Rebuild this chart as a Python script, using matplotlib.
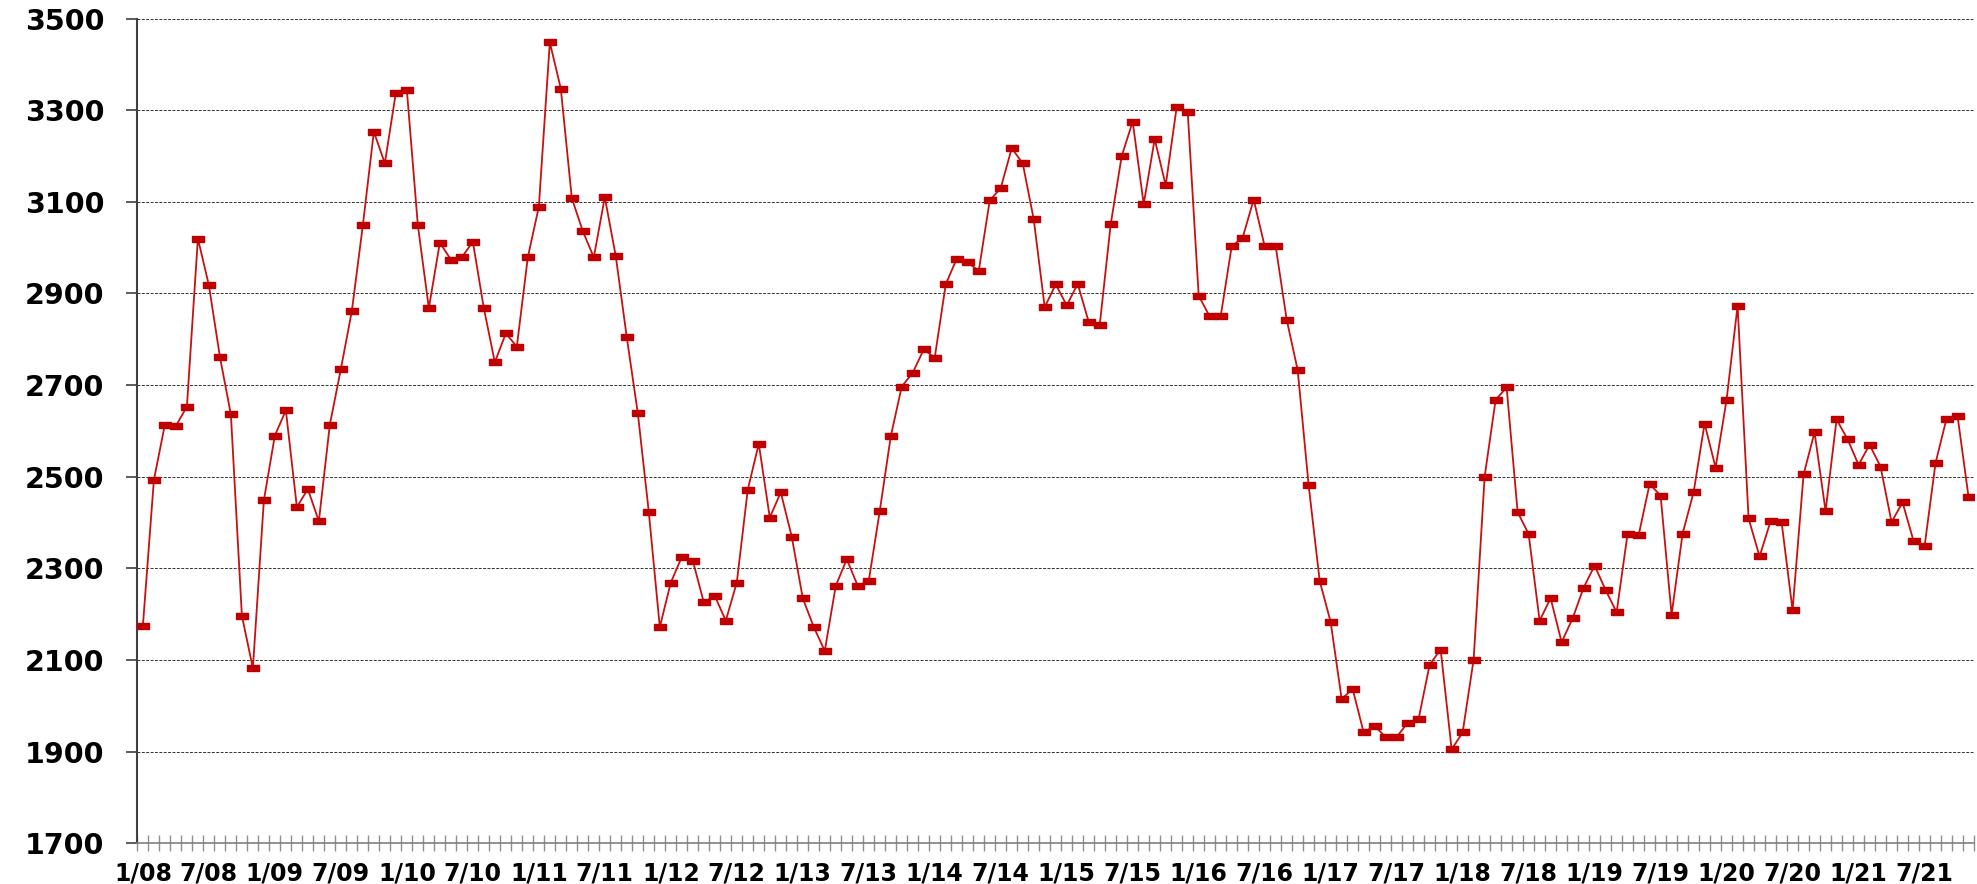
import matplotlib.pyplot as plt
from matplotlib.ticker import FixedLocator, MultipleLocator

# monthly values, 1/08 .. 11/21
values = [
    2175, 2493, 2614, 2611, 2653, 3020, 2918, 2762, 2636, 2197, 2082, 2449,
    2590, 2645, 2434, 2473, 2403, 2614, 2735, 2862, 3049, 3253, 3184, 3338,
    3344, 3049, 2868, 3011, 2974, 2979, 3013, 2868, 2750, 2813, 2784, 2979,
    3089, 3448, 3347, 3108, 3036, 2979, 3110, 2981, 2804, 2639, 2423, 2172,
    2269, 2325, 2317, 2226, 2240, 2186, 2269, 2472, 2572, 2411, 2466, 2369,
    2235, 2172, 2120, 2262, 2320, 2262, 2273, 2425, 2588, 2697, 2727, 2778,
    2760, 2920, 2976, 2968, 2949, 3103, 3130, 3217, 3184, 3062, 2870, 2920,
    2874, 2921, 2838, 2831, 3051, 3200, 3275, 3095, 3237, 3136, 3307, 3297,
    2895, 2850, 2850, 3003, 3022, 3105, 3003, 3003, 2843, 2733, 2481, 2273,
    2183, 2015, 2037, 1942, 1956, 1932, 1932, 1963, 1972, 2090, 2123, 1905,
    1942, 2101, 2500, 2668, 2695, 2423, 2375, 2186, 2235, 2139, 2191, 2258,
    2306, 2253, 2204, 2376, 2372, 2484, 2459, 2199, 2376, 2466, 2616, 2520,
    2668, 2873, 2409, 2326, 2403, 2401, 2209, 2505, 2597, 2425, 2625, 2582,
    2526, 2570, 2522, 2401, 2444, 2360, 2348, 2530, 2627, 2633, 2456,
]

tick_labels = [f"{m}/{y:02d}" for y in range(8, 22) for m in (1, 7)]
y_ticks = list(range(1700, 3501, 200))

RED = "#c00000"
RECT = [(-1.0, -0.55), (1.0, -0.55), (1.0, 0.55), (-1.0, 0.55), (-1.0, -0.55)]


def build_chart(output_path="out.png"):
    fig = plt.figure(figsize=(19.77, 8.84), dpi=100)
    ax = fig.add_axes([0.0695, 0.046, 0.9290, 0.933])

    x = list(range(len(values)))
    ax.plot(x, values, color="#c81010", lw=1.3, marker=RECT, ms=9,
            mfc=RED, mec=RED, zorder=3)

    ax.set_xlim(-0.5, len(values) - 0.5)
    ax.set_ylim(1700, 3500)

    ax.set_yticks(y_ticks)
    ax.set_yticklabels([str(v) for v in y_ticks], fontsize=20.5, fontweight="bold")
    ax.tick_params(axis="y", direction="out", length=8, width=1.2,
                   color="#404040", pad=16)

    ax.xaxis.set_major_locator(FixedLocator(range(0, 6 * len(tick_labels), 6)))
    ax.set_xticklabels(tick_labels, fontsize=17, fontweight="bold")
    ax.tick_params(axis="x", which="major", length=0, pad=13)
    ax.xaxis.set_minor_locator(MultipleLocator(1, offset=0.5))
    ax.tick_params(axis="x", which="minor", direction="inout", length=11,
                   width=1.0, color="#909090")

    for y in y_ticks[1:]:
        ax.axhline(y, color="#333333", lw=0.7, ls=(0, (3, 1.5)), zorder=1)

    for side in ("top", "right"):
        ax.spines[side].set_visible(False)
    ax.spines["left"].set_color("#404040")
    ax.spines["left"].set_linewidth(1.5)
    ax.spines["bottom"].set_color("#808080")
    ax.spines["bottom"].set_linewidth(1.2)

    fig.savefig(output_path, dpi=100)
    plt.close(fig)


def main():
    build_chart("out.png")


if __name__ == "__main__":
    main()
